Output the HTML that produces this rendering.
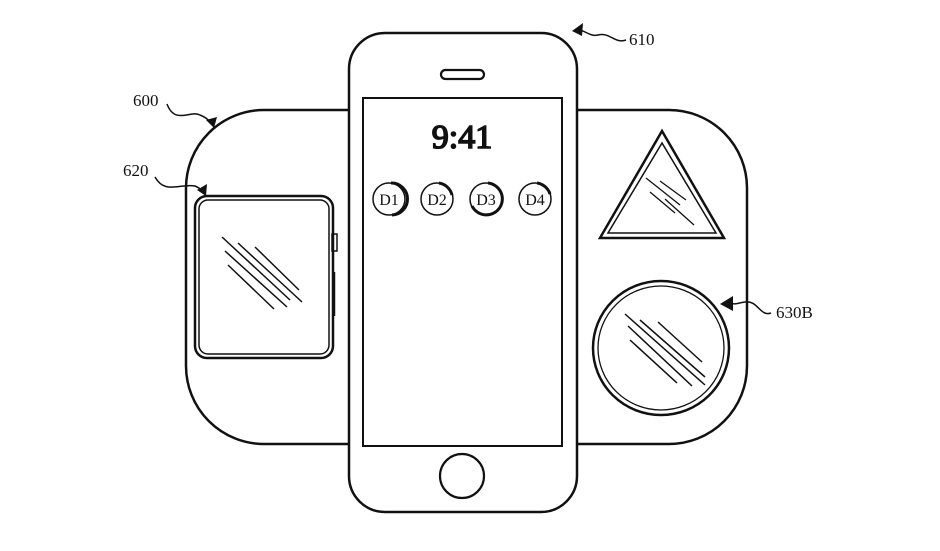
<!DOCTYPE html>
<html><head><style>
html,body{margin:0;padding:0;background:#fff;}
svg{display:block;}
text{font-family:"Liberation Serif",serif;fill:#111;}
</style></head><body>
<svg width="940" height="551" viewBox="0 0 940 551" xmlns="http://www.w3.org/2000/svg">
<rect width="940" height="551" fill="#fff"/>
<g fill="none" stroke="#111" stroke-width="2.5">
<rect x="186" y="110" width="561" height="334" rx="78" ry="78"/>
</g>
<rect x="349" y="33" width="228" height="479" rx="36" fill="#fff" stroke="#111" stroke-width="2.5"/>
<g fill="none" stroke="#111">
<rect x="363" y="98" width="199" height="348" stroke-width="2"/>
<rect x="441" y="70" width="43" height="9" rx="4.5" stroke-width="2.2"/>
<circle cx="462" cy="476" r="22" stroke-width="2.2"/>
<rect x="195" y="196" width="138" height="162" rx="12" stroke-width="2.5"/>
<rect x="199" y="200" width="130" height="154" rx="9" stroke-width="1.5"/>
<rect x="332" y="234" width="5" height="17" stroke-width="1.5"/>
<line x1="334" y1="272" x2="334" y2="316" stroke-width="2.5"/>
<g stroke-width="1.5">
<line x1="222" y1="237" x2="290" y2="300"/><line x1="238" y1="243" x2="302" y2="302"/>
<line x1="255" y1="247" x2="299" y2="290"/><line x1="225" y1="251" x2="287" y2="307"/>
<line x1="228" y1="265" x2="274" y2="309"/>
</g>
<polygon points="662,131 600,238 724,238" stroke-width="2.5"/>
<polygon points="662,143 608,233 716,233" stroke-width="1.5"/>
<g stroke-width="1.3">
<line x1="646" y1="178" x2="680" y2="205"/><line x1="660" y1="181" x2="686" y2="200"/>
<line x1="650" y1="192" x2="675" y2="213"/><line x1="665" y1="199" x2="694" y2="225"/>
</g>
<ellipse cx="661" cy="348" rx="68" ry="67" stroke-width="2.5"/>
<ellipse cx="661" cy="348" rx="63" ry="62" stroke-width="1.3"/>
<g stroke-width="1.5">
<line x1="625" y1="314" x2="705" y2="385"/><line x1="640" y1="320" x2="705" y2="377"/>
<line x1="658" y1="322" x2="702" y2="362"/><line x1="628" y1="326" x2="692" y2="386"/>
<line x1="630" y1="340" x2="677" y2="383"/>
</g>
<g stroke-width="1.5">
<circle cx="389" cy="199" r="16"/><circle cx="437" cy="199" r="16"/>
<circle cx="486" cy="199" r="16"/><circle cx="535" cy="199" r="16"/>
</g>
<g stroke-width="3">
<path d="M391 183 A16 16 0 0 1 392 215"/>
<path d="M439 183 A16 16 0 0 1 452 195"/>
<path d="M488 183 A16 16 0 1 1 472 206"/>
<path d="M537 183 A16 16 0 0 1 550 194"/>
</g>
<g stroke-width="1.5">
<path d="M167 104 C175 125,190 110,200 115 C208 118,210 122,212 124"/>
<path d="M155 177 C165 195,180 183,195 186 C200 188,202 190,204 193"/>
<path d="M626 40 C615 44,610 32,598 35 C590 37,585 30,578 30"/>
<path d="M771 313 C760 317,758 300,745 302 C738 303,735 305,730 303"/>
</g>
</g>
<g fill="#111">
<polygon points="214,128 206,120 217,117"/>
<polygon points="206,196 197,190 207,184"/>
<polygon points="572,31 583,23 582,36"/>
<polygon points="720,304 733,296 733,311"/>
</g>
<text x="133" y="106" font-size="17">600</text>
<text x="629" y="45" font-size="17">610</text>
<text x="123" y="176" font-size="17">620</text>
<text x="776" y="318" font-size="17">630B</text>
<text x="462" y="148" font-size="34" text-anchor="middle" fill="#fff" stroke="#111" stroke-width="1.6">9:41</text>
<g font-size="16" text-anchor="middle">
<text x="389" y="205">D1</text><text x="437" y="205">D2</text>
<text x="486" y="205">D3</text><text x="535" y="205">D4</text>
</g>
</svg>
</body></html>
